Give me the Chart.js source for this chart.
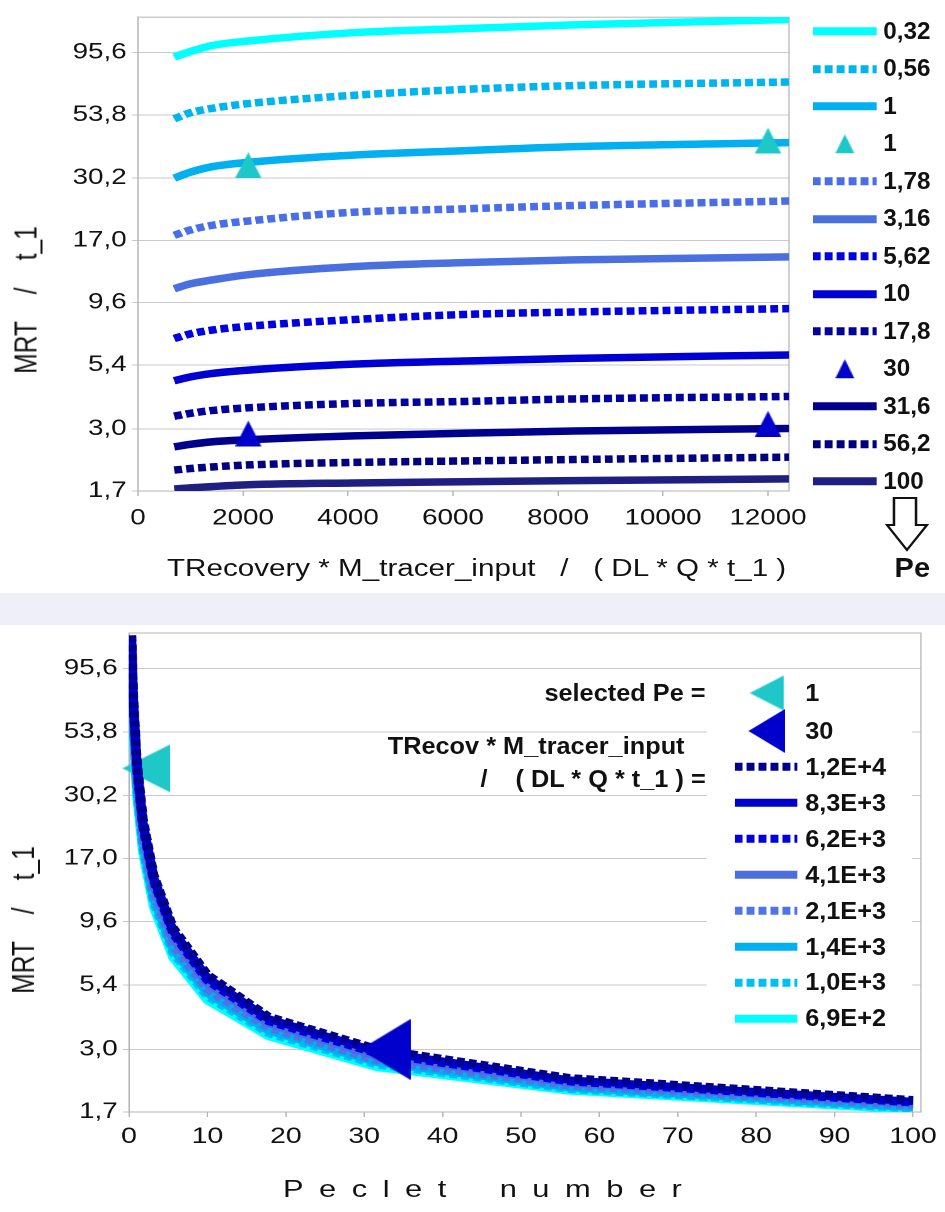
<!DOCTYPE html>
<html>
<head>
<meta charset="utf-8">
<script src="https://cdn.jsdelivr.net/npm/chart.js@4.4.0/dist/chart.umd.min.js"></script>
<style>
  html, body { margin: 0; padding: 0; background: #fff; }
  body { width: 945px; height: 1212px; overflow: hidden; position: relative; }
  /* the whole picture is drawn 750px wide and stretched sideways, like the original */
  #stage { position: absolute; left: 0; top: 0; width: 750px; height: 1212px; transform: scaleX(1.26); transform-origin: 0 0; }
  canvas.chart { position: absolute; left: 0; }
  #band { position: absolute; left: 0; top: 593px; width: 750px; height: 32px; background: #eeeff8; }
  #legendBox { position: absolute; left: 561px; top: 676px; width: 163px; height: 359px; background: #fff; }
  .txt { position: absolute; line-height: 1; white-space: pre; color: #111; font-family: "Liberation Sans", Arial, sans-serif; transform: translateY(-50%); }
  /* no narrow face installed: squeeze the bold face instead */
  .nb { font-family: "Liberation Sans", Arial, sans-serif; font-weight: bold; }
  .txt.nb { transform: translateY(-50%) scaleX(0.82); transform-origin: 0 50%; }
  .txt.nb.right { transform-origin: 100% 50%; }
  .ytitle { transform: translate(-50%, -50%) rotate(-90deg); }
  .row { position: absolute; display: flex; align-items: center; transform: translateY(-50%); }
  .row .lbl { display: inline-block; line-height: 1; white-space: pre; color: #111; transform: scaleX(0.82); transform-origin: 0 50%; }
  .row .smp { display: flex; justify-content: center; align-items: center; }
</style>
</head>
<body>
<div id="stage">
  <canvas id="topChart" class="chart" width="750" height="592" style="top:0"></canvas>
  <div id="band"></div>
  <canvas id="bottomChart" class="chart" width="750" height="600" style="top:612px"></canvas>
  <div id="legendBox"></div>

  <div class="txt ytitle" style="left:20.6px; top:300px; font-size:24.5px;">MRT    /    t_1</div>
  <div class="txt" style="left:132.5px; top:569px; font-size:23.5px;">TRecovery * M_tracer_input   /   ( DL * Q * t_1 )</div>
  <svg style="position:absolute; left:700px; top:494px;" width="40" height="60">
    <polygon points="9.5,4 27,4 27,31 35.7,31 19.8,56 4,31 9.5,31" fill="#fff" stroke="#111" stroke-width="2"/>
  </svg>
  <div class="txt nb" style="left:710.3px; top:568px; font-size:28px;">Pe</div>

  <div class="txt ytitle" style="left:19px; top:920px; font-size:24.5px;">MRT    /    t_1</div>
  <div class="txt" style="left:224.6px; top:1189px; font-size:24.5px; letter-spacing:12.3px; word-spacing:11px;">Peclet number</div>
  <div class="txt nb right" style="right:189.7px; top:693px; font-size:24.5px;">selected Pe =</div>
  <div class="txt nb right" style="right:206.3px; top:746px; font-size:24.5px;">TRecov * M_tracer_input</div>
  <div class="txt nb right" style="right:189.7px; top:778.5px; font-size:24.5px;">/    ( DL * Q * t_1 ) =</div>

  <div id="topLegend"></div>
  <div id="bottomLegend"></div>
</div>

<script>
// === DATA ===
const peValues = [0.32, 0.56, 1, 1.78, 3.16, 5.62, 10, 17.8, 31.6, 56.2, 100];
const trValues = [690, 1000, 1400, 2100, 4100, 6200, 8300, 12400];

// MRT / t_1 per Pe, one value for each TRecovery value above
const mrtPe0_32 = [91.5, 96.3, 101.7, 106.1, 114.5, 118.8, 123.0, 129.3];
const mrtPe0_56 = [51.9, 54.9, 57.1, 59.7, 64.4, 68.0, 70.4, 72.8];
const mrtPe1 = [30.1, 31.8, 33.4, 34.8, 37.2, 38.7, 40.2, 41.7];
const mrtPe1_78 = [17.8, 18.7, 19.5, 20.3, 22.0, 22.7, 23.4, 24.4];
const mrtPe3_16 = [10.9, 11.4, 11.8, 12.4, 13.35, 13.85, 14.2, 14.6];
const mrtPe5_62 = [6.9, 7.2, 7.45, 7.72, 8.21, 8.6, 8.8, 9.08];
const mrtPe10 = [4.68, 4.85, 5.0, 5.16, 5.45, 5.61, 5.75, 5.93];
const mrtPe17_8 = [3.38, 3.47, 3.56, 3.65, 3.8, 3.87, 3.96, 4.05];
const mrtPe31_6 = [2.55, 2.61, 2.67, 2.72, 2.82, 2.89, 2.95, 3.02];
const mrtPe56_2 = [2.06, 2.09, 2.12, 2.16, 2.21, 2.24, 2.27, 2.32];
const mrtPe100 = [1.73, 1.75, 1.77, 1.8, 1.83, 1.85, 1.87, 1.9];
const mrtByPe = [mrtPe0_32, mrtPe0_56, mrtPe1, mrtPe1_78, mrtPe3_16, mrtPe5_62,
  mrtPe10, mrtPe17_8, mrtPe31_6, mrtPe56_2, mrtPe100];

// selected Pe markers
const selPe = [1, 30];
const selTopTR = [2100, 12000];
const selTopMrtPe1 = [33.9, 42.5];
const selTopMrtPe30 = [2.88, 3.15];
const selBottomPe = [2.2, 32.7];
const selBottomMrt = [38.6, 3.0];

// ticks
const yTicks = [1.7, 3.0, 5.4, 9.6, 17.0, 30.2, 53.8, 95.6];
const xTicksTop = [0, 2000, 4000, 6000, 8000, 10000, 12000];
const xTicksBottom = [0, 10, 20, 30, 40, 50, 60, 70, 80, 90, 100];

// === STYLE ===
const peColors = ["#00ffff", "#00b4f0", "#00b0f0", "#4a6ee6", "#4a70e0", "#0000e0",
  "#0000d4", "#00009c", "#00008c", "#000080", "#1f1f82"];
const peDotted = [false, true, false, true, false, true, false, true, false, true, false];
const trColors = ["#00ffff", "#00bff5", "#00b0f0", "#4f74e8", "#4a6ee0", "#0000e0", "#0000cd", "#00008b"];
const trDotted = [false, true, false, true, false, true, false, true];
const selColors = ["#1ec8c8", "#0000cc"];

const FONT = '"Liberation Sans", Arial, sans-serif';
const DOT = [6.3, 3.2];
const fmtPe = (v) => String(v).replace(".", ",");
const fmtTR = (v) => v.toExponential(1).replace(".", ",").replace("e", "E");

function triangle(color, w, h, dir) {
  const c = document.createElement("canvas");
  c.width = w;
  c.height = h;
  const g = c.getContext("2d");
  g.fillStyle = color;
  g.beginPath();
  if (dir === "left") {
    g.moveTo(0, h / 2);
    g.lineTo(w, 0);
    g.lineTo(w, h);
  } else {
    g.moveTo(w / 2, 0);
    g.lineTo(w, h);
    g.lineTo(0, h);
  }
  g.closePath();
  g.fill();
  return c;
}

function lineDataset(label, points, color, dotted) {
  return {
    label,
    data: points,
    borderColor: color,
    backgroundColor: color,
    borderWidth: 7.5,
    borderDash: dotted ? DOT : [],
    pointRadius: 0,
    fill: false,
    order: 5,
  };
}

function markerDataset(label, points, color, img, order) {
  return {
    label,
    data: points,
    showLine: false,
    backgroundColor: color,
    pointStyle: img,
    pointRadius: 10,
    clip: false,
    order,
    legendMark: [color, img.width * 0.72, img.height * 0.72],
  };
}

function yScale(width) {
  return {
    type: "logarithmic",
    min: 1.7,
    max: 132,
    afterBuildTicks: (axis) => {
      axis.ticks = yTicks.map((v) => ({ value: v }));
    },
    afterFit: (axis) => {
      axis.width = width;
    },
    ticks: {
      autoSkip: false,
      padding: 4,
      color: "#111",
      font: { family: FONT, size: 22 },
      callback: (v) => v.toFixed(1).replace(".", ","),
    },
    grid: { color: "#c9c9cf", lineWidth: 1, tickLength: 5 },
    border: { color: "#b4b4b4" },
  };
}

function xScale(max, ticks, height, pad, size) {
  return {
    type: "linear",
    min: 0,
    max,
    afterBuildTicks: (axis) => {
      axis.ticks = ticks.map((v) => ({ value: v }));
    },
    afterFit: (axis) => {
      axis.height = height;
    },
    ticks: {
      autoSkip: false,
      maxRotation: 0,
      padding: pad,
      color: "#111",
      font: { family: FONT, size },
      callback: (v) => String(v),
    },
    grid: { drawOnChartArea: false, drawTicks: true, tickLength: 5, color: "#b4b4b4" },
    border: { color: "#b4b4b4" },
  };
}

// box round the plot area
const frame = {
  id: "frame",
  beforeDatasetsDraw(chart) {
    const { ctx, chartArea: a } = chart;
    ctx.save();
    ctx.strokeStyle = "#b4b4b4";
    ctx.lineWidth = 1;
    ctx.strokeRect(a.left, a.top, a.right - a.left, a.bottom - a.top);
    ctx.restore();
  },
};

// === TOP CHART: MRT vs TRecovery, one line per Pe ===
const topDatasets = peValues.map((pe, i) =>
  lineDataset(fmtPe(pe), trValues.map((tr, j) => ({ x: tr, y: mrtByPe[i][j] })), peColors[i], peDotted[i])
);
topDatasets.splice(3, 0, markerDataset(String(selPe[0]),
  selTopTR.map((tr, j) => ({ x: tr, y: selTopMrtPe1[j] })), selColors[0], triangle(selColors[0], 21, 26, "up"), 0));
topDatasets.splice(9, 0, markerDataset(String(selPe[1]),
  selTopTR.map((tr, j) => ({ x: tr, y: selTopMrtPe30[j] })), selColors[1], triangle(selColors[1], 21, 26, "up"), 0));

const topChart = new Chart(document.getElementById("topChart"), {
  type: "line",
  data: { datasets: topDatasets },
  options: {
    responsive: false,
    devicePixelRatio: 2,
    animation: false,
    events: [],
    layout: { padding: { top: 15, right: 123.8, left: 0, bottom: 0 } },
    elements: { line: { cubicInterpolationMode: "monotone" } },
    scales: {
      x: xScale(12400, xTicksTop, 101, 9, 22),
      y: yScale(109.5),
    },
    plugins: { legend: { display: false }, tooltip: { enabled: false } },
  },
  plugins: [frame],
});

// === BOTTOM CHART: MRT vs Pe, one line per TRecovery ===
const bottomDatasets = [
  markerDataset(String(selPe[0]), [{ x: selBottomPe[0], y: selBottomMrt[0] }], selColors[0],
    triangle(selColors[0], 38, 48, "left"), 10),
  markerDataset(String(selPe[1]), [{ x: selBottomPe[1], y: selBottomMrt[1] }], selColors[1],
    triangle(selColors[1], 40, 61, "left"), 0),
];
for (let j = trValues.length - 1; j >= 0; j--) {
  bottomDatasets.push(lineDataset(fmtTR(trValues[j]),
    peValues.map((pe, i) => ({ x: pe, y: mrtByPe[i][j] })), trColors[j], trDotted[j]));
}

const bottomChart = new Chart(document.getElementById("bottomChart"), {
  type: "line",
  data: { datasets: bottomDatasets },
  options: {
    responsive: false,
    devicePixelRatio: 2,
    animation: false,
    events: [],
    layout: { padding: { top: 21, right: 14.3, left: 0, bottom: 0 } },
    elements: { line: { tension: 0 } },
    scales: {
      x: xScale(101, xTicksBottom, 100, 6.5, 22.5),
      y: yScale(102.4),
    },
    plugins: { legend: { display: false }, tooltip: { enabled: false } },
  },
  plugins: [frame],
});

// === LEGENDS (built from the chart datasets) ===
function sample(ds, w) {
  const box = document.createElement("div");
  box.className = "smp";
  box.style.width = w + "px";
  if (ds.legendMark) {
    const [color, tw, th] = ds.legendMark;
    box.appendChild(triangle(color, Math.round(tw), Math.round(th), ds.pointStyle.height > 40 ? "left" : "up"));
    return box;
  }
  const dash = ds.borderDash.length ? `stroke-dasharray="${ds.borderDash.join(" ")}"` : "";
  box.innerHTML = `<svg width="${w}" height="10"><line x1="0" y1="5" x2="${w}" y2="5" stroke="${ds.borderColor}" stroke-width="8" ${dash}/></svg>`;
  return box;
}

function buildLegend(host, datasets, left, w, gap, fontSize, rowY) {
  datasets.forEach((ds, i) => {
    const row = document.createElement("div");
    row.className = "row";
    row.style.left = left + "px";
    row.style.top = rowY(i) + "px";
    row.appendChild(sample(ds, w));
    const lbl = document.createElement("span");
    lbl.className = "lbl nb";
    lbl.style.fontSize = fontSize + "px";
    lbl.style.marginLeft = gap + "px";
    lbl.textContent = ds.label;
    row.appendChild(lbl);
    host.appendChild(row);
  });
}

buildLegend(document.getElementById("topLegend"), topChart.data.datasets, 645.2, 50.8, 4.6, 23.5,
  (i) => 31.7 + i * 37.5);
buildLegend(document.getElementById("bottomLegend"), bottomChart.data.datasets, 583.3, 50, 5.6, 24.5,
  (i) => (i < 2 ? [693, 731][i] : 767 + (i - 2) * 35.9));
</script>
</body>
</html>
